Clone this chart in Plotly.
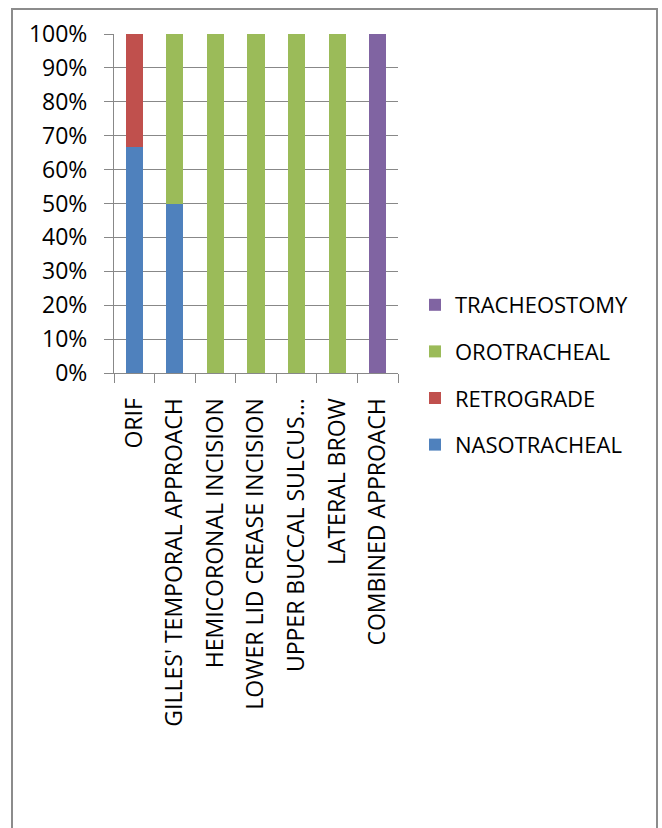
import plotly.graph_objects as go

# Procedures (x-axis categories)
categories = [
    "ORIF",
    "GILLES' TEMPORAL APPROACH",
    "HEMICORONAL INCISION",
    "LOWER LID CREASE INCISION",
    "UPPER BUCCAL SULCUS...",
    "LATERAL BROW",
    "COMBINED APPROACH",
]

# Share of each airway technique per procedure (percent)
nasotracheal = [66.7, 50, 0, 0, 0, 0, 0]
retrograde = [33.3, 0, 0, 0, 0, 0, 0]
orotracheal = [0, 50, 100, 100, 100, 100, 0]
tracheostomy = [0, 0, 0, 0, 0, 0, 100]

y_ticks = [0, 10, 20, 30, 40, 50, 60, 70, 80, 90, 100]
y_tick_labels = [f"{v}%" for v in y_ticks]

# stacked bottom-to-top; legend lists them top-to-bottom in reverse
series = [
    ("NASOTRACHEAL", nasotracheal, "#4F81BD"),
    ("RETROGRADE", retrograde, "#C0504D"),
    ("OROTRACHEAL", orotracheal, "#9BBB59"),
    ("TRACHEOSTOMY", tracheostomy, "#8064A2"),
]

FONT = "Open Sans, Liberation Sans, sans-serif"
FS = 23

fig = go.Figure()
for i, (name, vals, color) in enumerate(series):
    fig.add_trace(go.Bar(
        x=categories, y=vals, name=name, legendgroup=name,
        legendrank=1000 - i,
        marker=dict(color=color, line=dict(width=0)),
    ))

W, H = 662, 828
L, R, T, B = 114, 264, 34, 455
pw, ph = W - L - R, H - T - B

def px_x(x):
    return (x - L) / pw

def px_y(y):
    return (H - B - y) / ph

fig.update_layout(
    width=W, height=H,
    margin=dict(l=L, r=R, t=T, b=B),
    barmode="stack", bargap=0.58,
    paper_bgcolor="white", plot_bgcolor="white",
    font=dict(family=FONT, size=FS, color="#000000"),
    showlegend=True,
    legend=dict(
        x=px_x(415), xanchor="left", y=px_y(375), yanchor="middle",
        traceorder="grouped", tracegroupgap=15,
        font=dict(family=FONT, size=FS - 1, color="#000000"),
        bgcolor="rgba(0,0,0,0)", itemwidth=30,
    ),
    shapes=[dict(
        type="rect", xref="paper", yref="paper",
        x0=px_x(12), x1=px_x(657), y0=px_y(860), y1=px_y(9),
        line=dict(color="#8c8c8c", width=2), fillcolor="rgba(0,0,0,0)",
        layer="below",
    )],
)

fig.update_xaxes(
    type="category", tickangle=-90, tickson="boundaries",
    ticks="outside", ticklen=9, tickcolor="#888888", tickwidth=1,
    showline=True, linecolor="#888888", linewidth=1,
    showgrid=False, ticklabelstandoff=15,
    tickfont=dict(family=FONT, size=FS, color="#000000"),
)
fig.update_yaxes(
    range=[0, 100], tickvals=y_ticks, ticktext=y_tick_labels,
    ticks="outside", ticklen=9, tickcolor="#888888", tickwidth=1,
    showline=True, linecolor="#888888", linewidth=1,
    showgrid=True, gridcolor="#888888", gridwidth=1,
    zeroline=False, ticklabelstandoff=12,
    tickfont=dict(family=FONT, size=FS, color="#000000"),
)

fig.write_html("out.html")
